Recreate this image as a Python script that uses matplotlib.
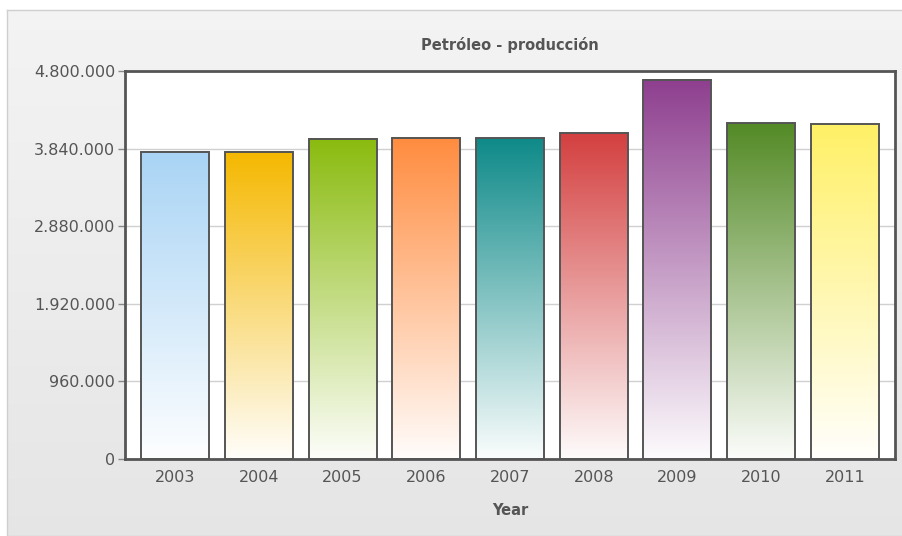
import numpy as np
import matplotlib
matplotlib.use("Agg")
import matplotlib.pyplot as plt
from matplotlib.colors import to_rgb
from matplotlib.ticker import FuncFormatter

# data
years = ["2003", "2004", "2005", "2006", "2007", "2008", "2009", "2010", "2011"]
production = [3800000, 3800000, 3960000, 3975000, 3970000, 4030000, 4690000, 4155000, 4150000]
bar_colors = ["#A9D4F5", "#F5B800", "#8ABB0E", "#FF8C3F", "#0E8A89",
              "#D44040", "#8E3F8F", "#548A26", "#FFF066"]
yticks = [0, 960000, 1920000, 2880000, 3840000, 4800000]

fig = plt.figure(figsize=(9.03, 5.36), dpi=100)

# light gray panel behind the chart
bg = fig.add_axes([7 / 903, 0, 1 - 7 / 903, 1 - 10 / 536], zorder=-10)
grad = np.linspace(0.955, 0.90, 256).reshape(-1, 1)
bg.imshow(np.dstack([grad, grad, grad]), aspect="auto", extent=[0, 1, 0, 1])
bg.set_xticks([])
bg.set_yticks([])
for s in bg.spines.values():
    s.set_color("#cfcfcf")
    s.set_linewidth(1)

ax = fig.add_axes([125 / 903, 77 / 536, 770 / 903, 388 / 536])
ax.set_facecolor("white")

x = np.arange(len(years))
bars = ax.bar(x, production, width=0.81, color="none", edgecolor="#555555",
              linewidth=1.4, zorder=3)

# vertical gradient in each bar: full colour at top fading to white
for b, c in zip(bars, bar_colors):
    r, g, bl = to_rgb(c)
    t = np.linspace(0.02, 1.0, 256).reshape(-1, 1)
    img = np.dstack([1 - t * (1 - r), 1 - t * (1 - g), 1 - t * (1 - bl)])
    x0, y0 = b.get_x(), b.get_y()
    ax.imshow(img, origin="lower", aspect="auto", zorder=2, interpolation="bilinear",
              extent=[x0, x0 + b.get_width(), y0, y0 + b.get_height()])

ax.set_xlim(-0.6, len(years) - 0.4)
ax.set_ylim(0, 4800000)
ax.set_yticks(yticks)
ax.yaxis.set_major_formatter(FuncFormatter(lambda v, p: f"{int(v):,}".replace(",", ".")))
ax.set_xticks(x)
ax.set_xticklabels(years)
ax.grid(axis="y", color="#d0d0d0", linewidth=1, zorder=0)
ax.set_axisbelow(True)

ax.tick_params(axis="y", length=5, width=1, color="#888888", labelcolor="#555555",
               labelsize=11.5, pad=2)
ax.tick_params(axis="x", length=0, labelcolor="#555555", labelsize=11.5, pad=8)
for s in ax.spines.values():
    s.set_color("#555555")
    s.set_linewidth(2)

ax.set_title("Petróleo - producción", fontsize=10.5, fontweight="bold",
             color="#555555", pad=15)
ax.set_xlabel("Year", fontsize=10.5, fontweight="bold", color="#555555", labelpad=13)

fig.savefig("out.png", dpi=100)
